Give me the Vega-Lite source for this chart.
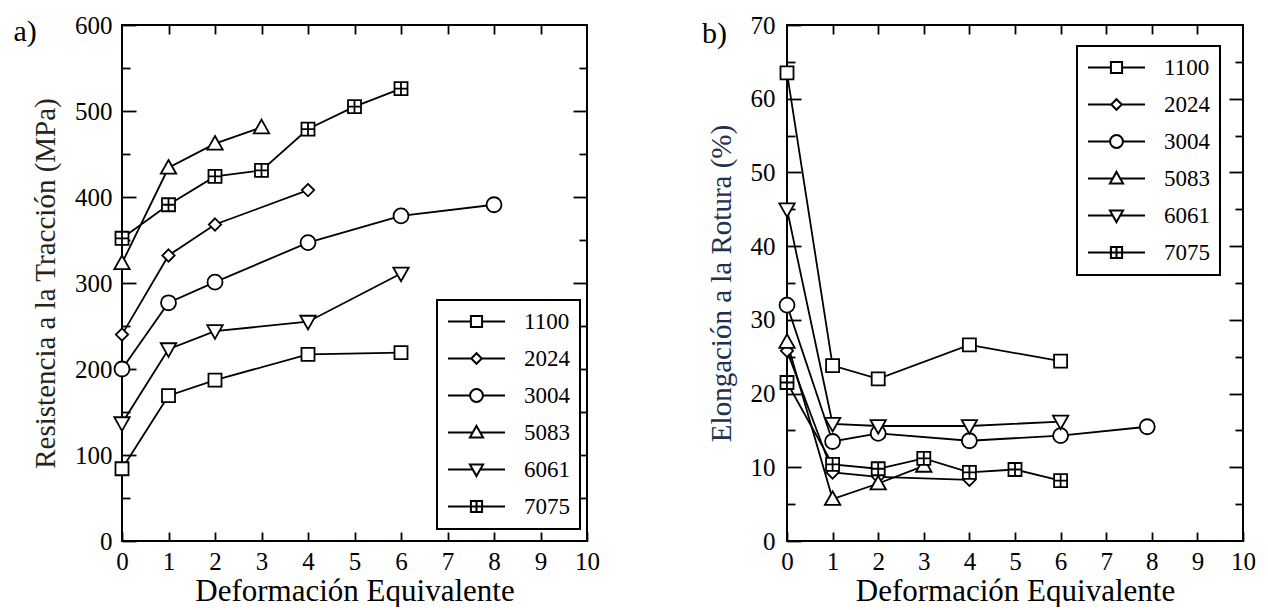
{
  "$schema": "https://vega.github.io/schema/vega-lite/v6.json",
  "background": "white",
  "padding": {"left": 12, "top": 12, "right": 0, "bottom": 0},
  "spacing": 100,
  "datasets": {
    "left": [
      {"alloy": "1100", "x": 0, "y": 84}, {"alloy": "1100", "x": 1, "y": 169}, {"alloy": "1100", "x": 2, "y": 187}, {"alloy": "1100", "x": 4, "y": 217}, {"alloy": "1100", "x": 6, "y": 219},
      {"alloy": "2024", "x": 0, "y": 240}, {"alloy": "2024", "x": 1, "y": 332}, {"alloy": "2024", "x": 2, "y": 368}, {"alloy": "2024", "x": 4, "y": 408},
      {"alloy": "3004", "x": 0, "y": 200}, {"alloy": "3004", "x": 1, "y": 277}, {"alloy": "3004", "x": 2, "y": 301}, {"alloy": "3004", "x": 4, "y": 347}, {"alloy": "3004", "x": 6, "y": 378}, {"alloy": "3004", "x": 8, "y": 391},
      {"alloy": "5083", "x": 0, "y": 323}, {"alloy": "5083", "x": 1, "y": 434}, {"alloy": "5083", "x": 2, "y": 462}, {"alloy": "5083", "x": 3, "y": 481},
      {"alloy": "6061", "x": 0, "y": 137}, {"alloy": "6061", "x": 1, "y": 223}, {"alloy": "6061", "x": 2, "y": 244}, {"alloy": "6061", "x": 4, "y": 255}, {"alloy": "6061", "x": 6, "y": 311},
      {"alloy": "7075", "x": 0, "y": 352}, {"alloy": "7075", "x": 1, "y": 391}, {"alloy": "7075", "x": 2, "y": 424}, {"alloy": "7075", "x": 3, "y": 431}, {"alloy": "7075", "x": 4, "y": 479}, {"alloy": "7075", "x": 5, "y": 505}, {"alloy": "7075", "x": 6, "y": 526}
    ],
    "right": [
      {"alloy": "1100", "x": 0, "y": 63.5}, {"alloy": "1100", "x": 1, "y": 23.8}, {"alloy": "1100", "x": 2, "y": 22}, {"alloy": "1100", "x": 4, "y": 26.6}, {"alloy": "1100", "x": 6, "y": 24.4},
      {"alloy": "2024", "x": 0, "y": 25.8}, {"alloy": "2024", "x": 1, "y": 9.3}, {"alloy": "2024", "x": 2, "y": 8.7}, {"alloy": "2024", "x": 4, "y": 8.3},
      {"alloy": "3004", "x": 0, "y": 32}, {"alloy": "3004", "x": 1, "y": 13.5}, {"alloy": "3004", "x": 2, "y": 14.6}, {"alloy": "3004", "x": 4, "y": 13.6}, {"alloy": "3004", "x": 6, "y": 14.3}, {"alloy": "3004", "x": 7.9, "y": 15.5},
      {"alloy": "5083", "x": 0, "y": 27}, {"alloy": "5083", "x": 1, "y": 5.7}, {"alloy": "5083", "x": 2, "y": 7.8}, {"alloy": "5083", "x": 3, "y": 10.2},
      {"alloy": "6061", "x": 0, "y": 45}, {"alloy": "6061", "x": 1, "y": 15.9}, {"alloy": "6061", "x": 2, "y": 15.6}, {"alloy": "6061", "x": 4, "y": 15.6}, {"alloy": "6061", "x": 6, "y": 16.2},
      {"alloy": "7075", "x": 0, "y": 21.5}, {"alloy": "7075", "x": 1, "y": 10.4}, {"alloy": "7075", "x": 2, "y": 9.8}, {"alloy": "7075", "x": 3, "y": 11.2}, {"alloy": "7075", "x": 4, "y": 9.3}, {"alloy": "7075", "x": 5, "y": 9.7}, {"alloy": "7075", "x": 6, "y": 8.2}
    ]
  },
  "hconcat": [
    {
      "width": 465,
      "height": 516,
      "data": {"name": "left"},
      "title": {"text": "a)", "anchor": "start", "frame": "bounds", "offset": 0, "dx": -18, "dy": 34, "fontSize": 30, "fontWeight": "normal", "font": "Liberation Serif", "color": "black"},
      "layer": [
        {
          "mark": {"type": "line", "color": "black", "strokeWidth": 1.8},
          "encoding": {
            "x": {"field": "x", "type": "quantitative", "scale": {"domain": [0, 10], "nice": false},
              "axis": {"orient": "bottom", "values": [0, 1, 2, 3, 4, 5, 6, 7, 8, 9, 10], "tickSize": -9, "labelPadding": 17, "title": "Deformación Equivalente"}},
            "y": {"field": "y", "type": "quantitative", "scale": {"domain": [0, 600], "nice": false},
              "axis": {"orient": "left", "values": [0, 100, 200, 300, 400, 500, 600], "tickSize": -14, "labelPadding": 24, "title": "Resistencia a la Tracción  (MPa)", "titleColor": "#2a2418", "titleFontSize": 29}},
            "detail": {"field": "alloy"}
          }
        },
        {
          "mark": {"type": "point", "filled": true, "fill": "white", "stroke": "black", "strokeWidth": 1.8, "size": 196, "opacity": 1},
          "encoding": {
            "x": {"field": "x", "type": "quantitative", "axis": null},
            "y": {"field": "y", "type": "quantitative", "axis": null},
            "shape": {"field": "alloy", "type": "nominal", "legend": null,
              "scale": {"domain": ["1100", "2024", "3004", "5083", "6061", "7075"],
                "range": ["M-0.93,-0.93H0.93V0.93H-0.93Z", "M0,-0.88L0.88,0L0,0.88L-0.88,0Z", "M1.07,0A1.07,1.07,0,1,1,-1.07,0A1.07,1.07,0,1,1,1.07,0Z", "M0,-1.1L1.1,0.85H-1.1Z", "M0,1.1L1.1,-0.85H-1.1Z", "M-0.93,-0.93H0.93V0.93H-0.93Z M0,-0.93V0.93 M-0.93,0H0.93"]}}
          }
        },
        {
          "transform": [{"filter": "false"}],
          "mark": {"type": "point", "filled": false, "color": "black", "strokeWidth": 2, "opacity": 1},
          "encoding": {
            "x": {"field": "x", "type": "quantitative", "axis": null},
            "y": {"field": "y", "type": "quantitative", "axis": null},
            "shape": {"field": "alloy", "type": "nominal",
              "scale": {"domain": ["1100", "2024", "3004", "5083", "6061", "7075"],
                "range": ["M-4.75,0H-0.93M0.93,0H4.75M-0.93,-0.93H0.93V0.93H-0.93Z", "M-4.75,0H-0.88M0.88,0H4.75M0,-0.88L0.88,0L0,0.88L-0.88,0Z", "M-4.75,0H-1.07M1.07,0H4.75M1.07,0A1.07,1.07,0,1,1,-1.07,0A1.07,1.07,0,1,1,1.07,0Z", "M-4.75,0H-0.62M0.62,0H4.75M0,-1.1L1.1,0.85H-1.1Z", "M-4.75,0H-0.62M0.62,0H4.75M0,1.1L1.1,-0.85H-1.1Z", "M-4.75,0H-0.93M0.93,0H4.75M-0.93,-0.93H0.93V0.93H-0.93Z M0,-0.93V0.93 M-0.93,0H0.93"]},
              "legend": {"title": null, "orient": "none", "legendX": 315, "legendY": 275, "symbolSize": 144, "symbolStrokeColor": "black", "symbolStrokeWidth": 2, "symbolOpacity": 1,
                "encode": {"symbols": {"update": {"stroke": {"value": "black"}, "strokeWidth": {"value": 2}, "opacity": {"value": 1}, "strokeOpacity": {"value": 1}}}}}}
          }
        },
        {
          "mark": {"type": "point", "opacity": 0},
          "encoding": {
            "x": {"field": "x", "type": "quantitative", "axis": {"orient": "top", "values": [1, 2, 3, 4, 5, 6, 7, 8, 9], "tickSize": -9, "labels": false, "title": null}},
            "y": {"field": "y", "type": "quantitative", "axis": {"orient": "right", "values": [100, 200, 300, 400, 500], "tickSize": -14, "labels": false, "title": null}}
          }
        },
        {
          "mark": {"type": "point", "opacity": 0},
          "encoding": {
            "x": {"field": "x", "type": "quantitative", "axis": null},
            "y": {"field": "y", "type": "quantitative", "axis": {"orient": "left", "values": [50, 150, 250, 350, 450, 550], "tickSize": -8, "labels": false, "title": null}}
          }
        },
        {
          "mark": {"type": "point", "opacity": 0},
          "encoding": {
            "x": {"field": "x", "type": "quantitative", "axis": null},
            "y": {"field": "y", "type": "quantitative", "axis": {"orient": "right", "values": [50, 150, 250, 350, 450, 550], "tickSize": -8, "labels": false, "title": null}}
          }
        }
      ],
      "resolve": {"axis": {"x": "independent", "y": "independent"}, "scale": {"shape": "independent"}}
    },
    {
      "width": 456,
      "height": 516,
      "data": {"name": "right"},
      "title": {"text": "b)", "anchor": "start", "frame": "bounds", "offset": 0, "dx": -5, "dy": 36, "fontSize": 30, "fontWeight": "normal", "font": "Liberation Serif", "color": "black"},
      "layer": [
        {
          "mark": {"type": "line", "color": "black", "strokeWidth": 1.8},
          "encoding": {
            "x": {"field": "x", "type": "quantitative", "scale": {"domain": [0, 10], "nice": false},
              "axis": {"orient": "bottom", "values": [0, 1, 2, 3, 4, 5, 6, 7, 8, 9, 10], "tickSize": -9, "labelPadding": 17, "title": "Deformación Equivalente"}},
            "y": {"field": "y", "type": "quantitative", "scale": {"domain": [0, 70], "nice": false},
              "axis": {"orient": "left", "values": [0, 10, 20, 30, 40, 50, 60, 70], "tickSize": -14, "labelPadding": 26, "title": "Elongación a la Rotura  (%)", "titleColor": "#22304f", "titleFontSize": 29}},
            "detail": {"field": "alloy"}
          }
        },
        {
          "mark": {"type": "point", "filled": true, "fill": "white", "stroke": "black", "strokeWidth": 1.8, "size": 196, "opacity": 1},
          "encoding": {
            "x": {"field": "x", "type": "quantitative", "axis": null},
            "y": {"field": "y", "type": "quantitative", "axis": null},
            "shape": {"field": "alloy", "type": "nominal", "legend": null,
              "scale": {"domain": ["1100", "2024", "3004", "5083", "6061", "7075"],
                "range": ["M-0.93,-0.93H0.93V0.93H-0.93Z", "M0,-0.88L0.88,0L0,0.88L-0.88,0Z", "M1.07,0A1.07,1.07,0,1,1,-1.07,0A1.07,1.07,0,1,1,1.07,0Z", "M0,-1.1L1.1,0.85H-1.1Z", "M0,1.1L1.1,-0.85H-1.1Z", "M-0.93,-0.93H0.93V0.93H-0.93Z M0,-0.93V0.93 M-0.93,0H0.93"]}}
          }
        },
        {
          "transform": [{"filter": "false"}],
          "mark": {"type": "point", "filled": false, "color": "black", "strokeWidth": 2, "opacity": 1},
          "encoding": {
            "x": {"field": "x", "type": "quantitative", "axis": null},
            "y": {"field": "y", "type": "quantitative", "axis": null},
            "shape": {"field": "alloy", "type": "nominal",
              "scale": {"domain": ["1100", "2024", "3004", "5083", "6061", "7075"],
                "range": ["M-4.75,0H-0.93M0.93,0H4.75M-0.93,-0.93H0.93V0.93H-0.93Z", "M-4.75,0H-0.88M0.88,0H4.75M0,-0.88L0.88,0L0,0.88L-0.88,0Z", "M-4.75,0H-1.07M1.07,0H4.75M1.07,0A1.07,1.07,0,1,1,-1.07,0A1.07,1.07,0,1,1,1.07,0Z", "M-4.75,0H-0.62M0.62,0H4.75M0,-1.1L1.1,0.85H-1.1Z", "M-4.75,0H-0.62M0.62,0H4.75M0,1.1L1.1,-0.85H-1.1Z", "M-4.75,0H-0.93M0.93,0H4.75M-0.93,-0.93H0.93V0.93H-0.93Z M0,-0.93V0.93 M-0.93,0H0.93"]},
              "legend": {"title": null, "orient": "none", "legendX": 290, "legendY": 21, "symbolSize": 144, "symbolStrokeColor": "black", "symbolStrokeWidth": 2, "symbolOpacity": 1,
                "encode": {"symbols": {"update": {"stroke": {"value": "black"}, "strokeWidth": {"value": 2}, "opacity": {"value": 1}, "strokeOpacity": {"value": 1}}}}}}
          }
        },
        {
          "mark": {"type": "point", "opacity": 0},
          "encoding": {
            "x": {"field": "x", "type": "quantitative", "axis": {"orient": "top", "values": [1, 2, 3, 4, 5, 6, 7, 8, 9], "tickSize": -9, "labels": false, "title": null}},
            "y": {"field": "y", "type": "quantitative", "axis": {"orient": "right", "values": [10, 20, 30, 40, 50, 60], "tickSize": -14, "labels": false, "title": null}}
          }
        },
        {
          "mark": {"type": "point", "opacity": 0},
          "encoding": {
            "x": {"field": "x", "type": "quantitative", "axis": null},
            "y": {"field": "y", "type": "quantitative", "axis": {"orient": "left", "values": [5, 15, 25, 35, 45, 55, 65], "tickSize": -8, "labels": false, "title": null}}
          }
        },
        {
          "mark": {"type": "point", "opacity": 0},
          "encoding": {
            "x": {"field": "x", "type": "quantitative", "axis": null},
            "y": {"field": "y", "type": "quantitative", "axis": {"orient": "right", "values": [5, 15, 25, 35, 45, 55, 65], "tickSize": -8, "labels": false, "title": null}}
          }
        }
      ],
      "resolve": {"axis": {"x": "independent", "y": "independent"}, "scale": {"shape": "independent"}}
    }
  ],
  "config": {
    "font": "Liberation Serif",
    "view": {"stroke": "black", "strokeWidth": 2},
    "axis": {
      "domain": false,
      "grid": false,
      "tickColor": "black",
      "tickWidth": 1.8,
      "labelFont": "Liberation Serif",
      "labelFontSize": 25,
      "labelColor": "black",
      "labelFlush": false,
      "labelOverlap": false,
      "titleFont": "Liberation Serif",
      "titleFontSize": 31,
      "titleFontWeight": "normal",
      "titleColor": "black",
      "titlePadding": 2
    },
    "axisLeft": {"titlePadding": 14},
    "legend": {
      "strokeColor": "black",
      "strokeWidth": 2,
      "padding": 10,
      "fillColor": "white",
      "labelFont": "Liberation Serif",
      "labelFontSize": 23,
      "labelColor": "black",
      "labelLimit": 200,
      "symbolOffset": 18,
      "labelOffset": 36,
      "rowPadding": 13,
      "symbolStrokeColor": "black",
      "symbolStrokeWidth": 2
    }
  }
}
